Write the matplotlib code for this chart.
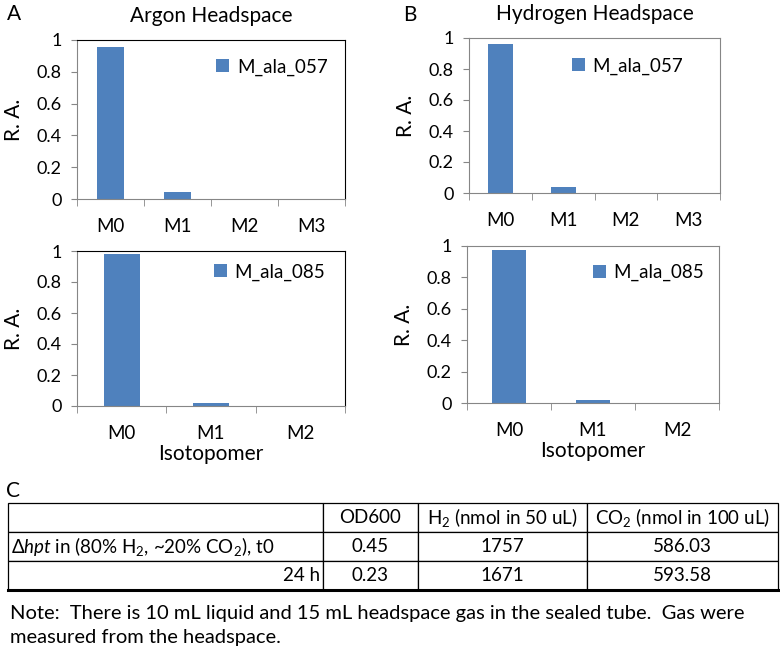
import matplotlib
matplotlib.use("Agg")
import matplotlib.pyplot as plt
import numpy as np

plt.rcParams['font.family'] = ['Lato', 'DejaVu Sans']
plt.rcParams['mathtext.fontset'] = 'custom'
plt.rcParams['mathtext.rm'] = 'Lato'
plt.rcParams['mathtext.it'] = 'Lato:italic'

BLUE = '#4F81BD'

# isotopomer data
iso_057 = ['M0', 'M1', 'M2', 'M3']
iso_085 = ['M0', 'M1', 'M2']
argon_057 = [0.958, 0.042, 0.0, 0.0]
hydrogen_057 = [0.962, 0.037, 0.0, 0.0]
argon_085 = [0.981, 0.019, 0.0]
hydrogen_085 = [0.975, 0.022, 0.0]

# table data
col_labels = ['', 'OD600', 'H$_2$ (nmol in 50 uL)', 'CO$_2$ (nmol in 100 uL)']
row_labels = ['$\\Delta\\mathit{hpt}$ in (80% H$_2$, ~20% CO$_2$), t0', '24 h']
od600 = ['0.45', '0.23']
h2 = ['1757', '1671']
co2 = ['586.03', '593.58']
note = ['Note:  There is 10 mL liquid and 15 mL headspace gas in the sealed tube.  Gas were',
        'measured from the headspace.']

W, H = 780, 653


def rect(l, t, r, b):
    return [l / W, 1 - b / H, (r - l) / W, (b - t) / H]


def bar_panel(ax, cats, vals, label, leg_xy, edge='black', xlabel=None):
    x = np.arange(len(cats))
    ax.bar(x, vals, width=0.4, color=BLUE, label=label)
    ax.set_xlim(-0.5, len(cats) - 0.5)
    ax.set_ylim(0, 1)
    ax.set_yticks(np.arange(0, 1.01, 0.2))
    ax.set_yticklabels(['0', '0.2', '0.4', '0.6', '0.8', '1'])
    ax.set_xticks(x)
    ax.set_xticklabels(cats)
    ax.set_xticks(np.arange(-0.5, len(cats)), minor=True)
    ax.tick_params(axis='x', which='major', length=0, pad=14, labelsize=13.5)
    ax.tick_params(axis='x', which='minor', length=5, direction='out', color='#868686')
    ax.tick_params(axis='y', length=4, direction='out', labelsize=13, pad=7, color='#868686')
    for s in ax.spines.values():
        s.set_color(edge)
        s.set_linewidth(0.8)
    ax.spines['left'].set_color('#868686')
    ax.spines['bottom'].set_color('#868686')
    ax.set_ylabel('R. A.', fontsize=15, labelpad=9)
    if xlabel:
        ax.set_xlabel(xlabel, fontsize=15, labelpad=1)
    ax.legend(loc='center left', bbox_to_anchor=leg_xy, frameon=False,
              handlelength=0.7, handleheight=0.7, handletextpad=0.4,
              borderpad=0, borderaxespad=0, fontsize=13.5)


fig = plt.figure(figsize=(7.8, 6.53), dpi=100)

axA1 = fig.add_axes(rect(77, 40, 345, 199))
bar_panel(axA1, iso_057, argon_057, 'M_ala_057', (0.52, 0.83))
axA1.set_title('Argon Headspace', fontsize=15, pad=13)

axB1 = fig.add_axes(rect(469, 38, 720, 193))
bar_panel(axB1, iso_057, hydrogen_057, 'M_ala_057', (0.41, 0.82), edge='#868686')
axB1.set_title('Hydrogen Headspace', fontsize=15, pad=13)

axA2 = fig.add_axes(rect(77, 251, 345, 406))
bar_panel(axA2, iso_085, argon_085, 'M_ala_085', (0.51, 0.865), xlabel='Isotopomer')

axB2 = fig.add_axes(rect(467, 246, 719, 403))
bar_panel(axB2, iso_085, hydrogen_085, 'M_ala_085', (0.50, 0.83), edge='#868686',
          xlabel='Isotopomer')

fig.text(7 / W, 1 - 14 / H, 'A', fontsize=15, va='center', ha='left')
fig.text(403 / W, 1 - 15 / H, 'B', fontsize=15, va='center', ha='left')
fig.text(6 / W, 1 - 491 / H, 'C', fontsize=15, va='center', ha='left')

# table
axT = fig.add_axes(rect(8, 503, 778, 590))
axT.axis('off')
cells = [col_labels]
for i in range(len(row_labels)):
    cells.append([row_labels[i], od600[i], h2[i], co2[i]])
edges = np.array([8, 323, 418, 587, 778])
widths = np.diff(edges) / (edges[-1] - edges[0])
tbl = axT.table(cellText=cells, colWidths=widths, bbox=[0, 0, 1, 1], cellLoc='center')
tbl.auto_set_font_size(False)
tbl.set_fontsize(13.5)
for (r, c), cell in tbl.get_celld().items():
    cell.set_linewidth(0.9)
    cell.set_edgecolor('black')
    cell.PAD = 0.008
    if c == 0 and r == 1:
        cell.set_text_props(ha='left')
        cell._loc = 'left'
    if c == 0 and r == 2:
        cell._loc = 'right'
        cell.set_text_props(ha='right')
axT.axhline(0, color='black', lw=2.2, clip_on=False)

fig.text(10 / W, 1 - 613 / H, note[0], fontsize=14.5, va='center', ha='left')
fig.text(10 / W, 1 - 638 / H, note[1], fontsize=14.5, va='center', ha='left')

fig.savefig('out.png', dpi=100)
